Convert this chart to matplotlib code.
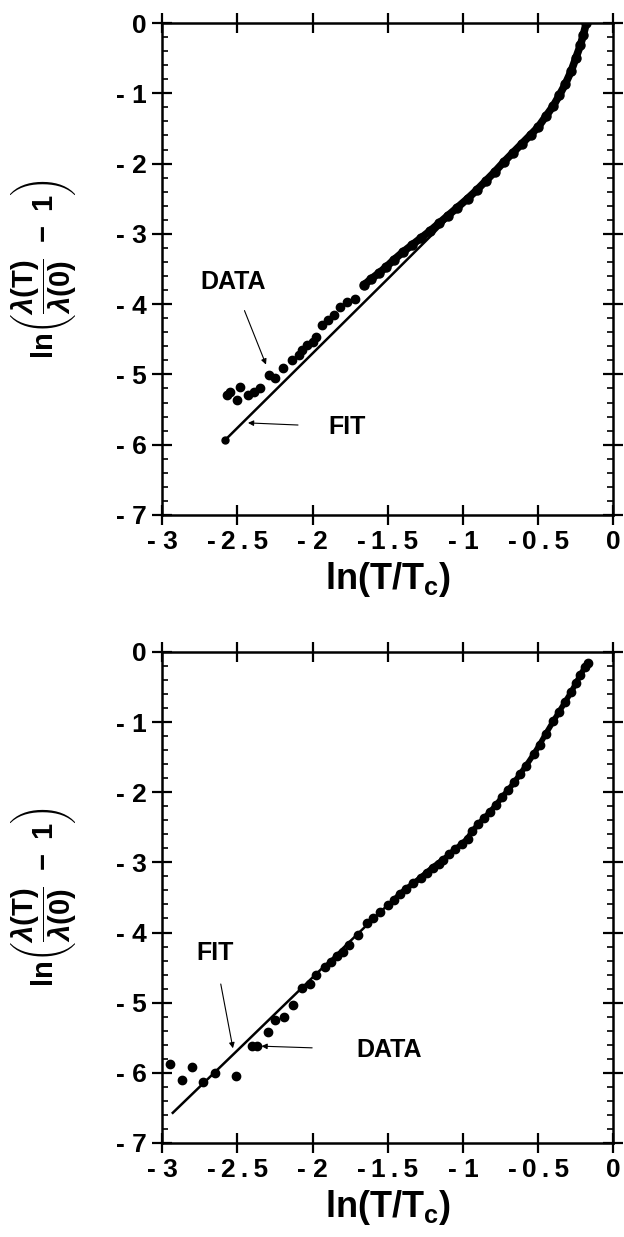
import matplotlib
matplotlib.use("Agg")
import matplotlib.pyplot as plt
from matplotlib.ticker import MultipleLocator, FixedLocator

plt.rcParams['font.family'] = ['Liberation Sans', 'DejaVu Sans']
plt.rcParams['font.weight'] = 'bold'
plt.rcParams['mathtext.fontset'] = 'custom'
plt.rcParams['mathtext.rm'] = 'Liberation Sans'
plt.rcParams['mathtext.it'] = 'Liberation Sans:italic'
plt.rcParams['mathtext.bf'] = 'Liberation Sans:bold'

# ---- top panel data ----
top_dense_x = [-1.66, -1.61, -1.56, -1.51, -1.46, -1.40, -1.34, -1.28, -1.22, -1.16,
               -1.10, -1.04, -0.97, -0.91, -0.85, -0.79, -0.73, -0.67, -0.61, -0.55,
               -0.50, -0.45, -0.40, -0.36, -0.32, -0.28, -0.25, -0.22, -0.20, -0.18]
top_dense_y = [-3.73, -3.64, -3.56, -3.47, -3.37, -3.26, -3.16, -3.06, -2.96, -2.85,
               -2.74, -2.63, -2.50, -2.38, -2.25, -2.12, -1.98, -1.85, -1.72, -1.59,
               -1.48, -1.33, -1.18, -1.03, -0.87, -0.68, -0.50, -0.32, -0.17, 0.0]
top_scatter_x = [-1.72, -1.77, -1.82, -1.86, -1.90, -1.94, -1.98, -2.00, -2.04, -2.07,
                 -2.09, -2.14, -2.20, -2.25, -2.29, -2.35, -2.39, -2.43, -2.48, -2.50,
                 -2.55, -2.57]
top_scatter_y = [-3.93, -3.97, -4.04, -4.15, -4.22, -4.30, -4.47, -4.54, -4.58, -4.65,
                 -4.72, -4.79, -4.91, -5.05, -5.01, -5.19, -5.25, -5.29, -5.18, -5.36,
                 -5.25, -5.29]
top_fit_x = [-2.58, -2.0, -1.5, -1.2, -1.0, -0.85, -0.73, -0.61, -0.50, -0.40,
             -0.34, -0.27, -0.22, -0.18]
top_fit_y = [-5.93, -4.70, -3.64, -3.0, -2.56, -2.25, -1.98, -1.72, -1.48, -1.18,
             -0.97, -0.64, -0.32, 0.0]

# ---- bottom panel data ----
bot_x = [-2.95, -2.87, -2.80, -2.73, -2.65, -2.51, -2.40, -2.37, -2.30, -2.25,
         -2.19, -2.13, -2.07, -2.02, -1.98, -1.92, -1.88, -1.84, -1.80, -1.76,
         -1.70, -1.64, -1.60, -1.55, -1.50, -1.46, -1.42, -1.38, -1.33, -1.28,
         -1.24, -1.20, -1.16, -1.13, -1.09, -1.05, -1.01, -0.97, -0.94, -0.90,
         -0.86, -0.82, -0.78, -0.74, -0.70, -0.66, -0.62, -0.58, -0.53, -0.49,
         -0.45, -0.40, -0.36, -0.32, -0.28, -0.25, -0.22, -0.19, -0.17]
bot_y = [-5.88, -6.10, -5.91, -6.13, -6.00, -6.04, -5.62, -5.62, -5.42, -5.25,
         -5.20, -5.03, -4.79, -4.73, -4.61, -4.49, -4.42, -4.34, -4.28, -4.18,
         -4.04, -3.87, -3.80, -3.71, -3.61, -3.54, -3.45, -3.38, -3.30, -3.22,
         -3.15, -3.08, -3.02, -2.97, -2.88, -2.81, -2.74, -2.66, -2.56, -2.46,
         -2.37, -2.28, -2.18, -2.07, -1.97, -1.86, -1.74, -1.62, -1.46, -1.32,
         -1.17, -0.99, -0.85, -0.71, -0.57, -0.45, -0.33, -0.22, -0.16]
bot_fit_x = [-2.93, -2.5, -2.0, -1.42, -1.2, -1.0, -0.8, -0.6, -0.45, -0.32, -0.22, -0.17]
bot_fit_y = [-6.57, -5.68, -4.64, -3.44, -3.04, -2.72, -2.23, -1.69, -1.17, -0.70, -0.33, -0.16]

xticks = [-3, -2.5, -2, -1.5, -1, -0.5, 0]
xticklabels = ["- 3", "-\u20092\u2009.\u20095", "- 2", "-\u20091\u2009.\u20095", "- 1",
               "-\u20090\u2009.\u20095", "0"]
yticks = [0, -1, -2, -3, -4, -5, -6, -7]
yticklabels = ["0", "- 1", "- 2", "- 3", "- 4", "- 5", "- 6", "- 7"]

ylabel = r'$\mathbf{ln}\left(\dfrac{\lambda(\mathbf{T})}{\lambda(0)}\ -\ 1\right)$'
xlabel = r'$\mathbf{ln(T/T_c)}$'


def style_axes(ax):
    ax.set_xlim(-3, 0)
    ax.set_ylim(-7, 0)
    ax.xaxis.set_major_locator(FixedLocator(xticks))
    ax.set_xticklabels(xticklabels)
    ax.yaxis.set_major_locator(FixedLocator(yticks))
    ax.set_yticklabels(yticklabels)
    ax.yaxis.set_minor_locator(MultipleLocator(0.2))
    ax.tick_params(which='major', direction='inout', length=14, width=1.6,
                   top=True, right=True, labelsize=19, pad=4)
    ax.tick_params(which='minor', direction='in', length=4, width=1.2, right=True)
    for s in ax.spines.values():
        s.set_linewidth(1.8)
    ax.set_xlabel(xlabel, fontsize=26, labelpad=4)
    ax.set_ylabel(ylabel, fontsize=21)
    ax.yaxis.set_label_coords(-0.185, 0.5)


fig = plt.figure(figsize=(6.24, 12.37), dpi=100)
ax1 = fig.add_axes([0.26, 0.5837, 0.723, 0.3977])
ax2 = fig.add_axes([0.26, 0.076, 0.723, 0.397])

# top panel
ax1.plot(top_fit_x, top_fit_y, color='black', lw=1.8)
ax1.plot(top_fit_x[0], top_fit_y[0], 'o', color='black', ms=5)
ax1.plot(top_dense_x, top_dense_y, color='black', lw=5.5, solid_capstyle='round')
ax1.plot(top_dense_x, top_dense_y, 'o', color='black', ms=6.5)
ax1.plot(top_scatter_x, top_scatter_y, 'o', color='black', ms=6)
ax1.annotate('DATA', xy=(-2.31, -4.86), xytext=(-2.53, -3.68), fontsize=18,
             ha='center', va='center',
             arrowprops=dict(arrowstyle='-|>', color='black', lw=0.8,
                             mutation_scale=8, shrinkA=11, shrinkB=0))
ax1.annotate('FIT', xy=(-2.43, -5.69), xytext=(-1.77, -5.75), fontsize=18,
             ha='center', va='center',
             arrowprops=dict(arrowstyle='-|>', color='black', lw=0.8,
                             mutation_scale=8, shrinkA=20, shrinkB=0))
style_axes(ax1)

# bottom panel
ax2.plot(bot_fit_x, bot_fit_y, color='black', lw=1.8)
ax2.plot(bot_x[25:], bot_y[25:], color='black', lw=4, solid_capstyle='round')
ax2.plot(bot_x, bot_y, 'o', color='black', ms=6)
ax2.annotate('FIT', xy=(-2.53, -5.65), xytext=(-2.65, -4.29), fontsize=18,
             ha='center', va='center',
             arrowprops=dict(arrowstyle='-|>', color='black', lw=0.8,
                             mutation_scale=8, shrinkA=12, shrinkB=0))
ax2.annotate('DATA', xy=(-2.34, -5.62), xytext=(-1.49, -5.68), fontsize=18,
             ha='center', va='center',
             arrowprops=dict(arrowstyle='-|>', color='black', lw=0.8,
                             mutation_scale=8, shrinkA=30, shrinkB=0))
style_axes(ax2)

fig.savefig('out.png', dpi=100)
